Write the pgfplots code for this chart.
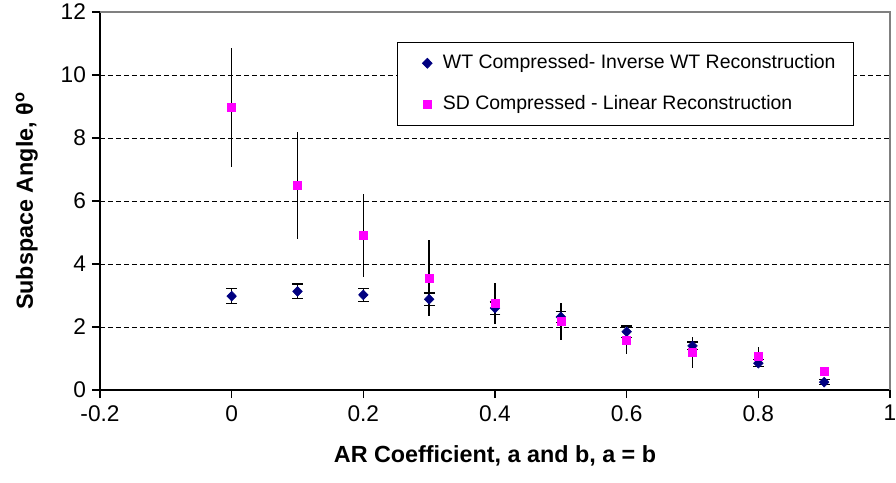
\documentclass[border=0pt]{standalone}
\usepackage{pgfplots}
\pgfplotsset{compat=1.18}
\usepackage{fontspec}
\setmainfont{Liberation Sans}
\definecolor{wtblue}{RGB}{0,0,128}
\definecolor{sdmag}{RGB}{255,0,255}
\begin{document}
\begin{tikzpicture}[x=1pt,y=1pt]
\begin{axis}[
  scale only axis,
  width=592.5pt, height=283.5pt,
  xmin=-0.2, xmax=1, ymin=0, ymax=12,
  xtick={-0.2,0,0.2,0.4,0.6,0.8,1},
  ytick={0,2,4,6,8,10,12},
  axis x line=bottom, axis y line=left,
  axis line style={-, black, line width=0.8pt},
  tick align=outside,
  major tick length=6pt,
  tick style={black, line width=0.8pt},
  /pgf/number format/assume math mode=true,
  tick label style={font=\fontsize{17}{20}\selectfont},
  xticklabel style={yshift=-2pt},
  yticklabel style={xshift=-1pt},
  ymajorgrids,
  grid style={black, line width=0.5pt, dash pattern=on 3.75pt off 2.25pt},
  xlabel={AR Coefficient, a and b, a = b},
  ylabel={Subspace Angle, θ\textsuperscript{o}},
  label style={font=\bfseries\fontsize{17.5}{20}\selectfont},
  xlabel style={at={(rel axis cs:0.5,0)}, anchor=center, yshift=-49.5pt},
  ylabel style={at={(rel axis cs:0,0.5)}, anchor=center, yshift=55pt},
  legend image code/.code={\path (-0.39cm,0) (0.33cm,0); \draw[#1] plot coordinates {(0cm,0cm)};},
  legend style={at={(rel axis cs:0.376,0.921)}, anchor=north west,
    draw=black, line width=0.6pt, fill=white,
    inner xsep=11pt, inner ysep=9pt, row sep=17.25pt,
    font=\fontsize{14.6}{17}\selectfont,
    nodes={text height=10.5pt, text depth=3pt, inner ysep=0pt}},
  legend cell align=left,
  clip=false,
]
\addplot[only marks, mark=diamond*, mark size=3.7pt,
  mark options={xscale=1.3, fill=wtblue, draw=wtblue},
  error bars/.cd, y dir=both, y explicit,
  error bar style={black, line width=1.1pt},
  error mark options={black, rotate=90, mark size=4pt, line width=1.1pt}]
  coordinates {
  (0,2.98) +- (0,0.24)
  (0.1,3.13) +- (0,0.23)
  (0.2,3.02) +- (0,0.21)
  (0.3,2.88) +- (0,0.20)
  (0.4,2.60) +- (0,0.20)
  (0.5,2.32) +- (0,0.17)
  (0.6,1.85) +- (0,0.18)
  (0.7,1.40) +- (0,0.12)
  (0.8,0.85) +- (0,0.11)
  (0.9,0.25) +- (0,0.08)
  };
\addlegendentry{WT Compressed- Inverse WT Reconstruction}
\addplot[only marks, mark=square*, mark size=3pt,
  mark options={fill=sdmag, draw=sdmag},
  error bars/.cd, y dir=both, y explicit,
  error bar style={black, line width=1.1pt},
  error mark=none]
  coordinates {
  (0,8.97) +- (0,1.90)
  (0.1,6.49) +- (0,1.70)
  (0.2,4.91) +- (0,1.31)
  (0.3,3.56) +- (0,1.20)
  (0.4,2.75) +- (0,0.66)
  (0.5,2.18) +- (0,0.58)
  (0.6,1.58) +- (0,0.45)
  (0.7,1.19) +- (0,0.48)
  (0.8,1.06) +- (0,0.32)
  (0.9,0.58) +- (0,0.15)
  };
\addlegendentry{SD Compressed - Linear Reconstruction}
\draw[gray, line width=0.8pt] (rel axis cs:0,1) -- (rel axis cs:1,1) -- (rel axis cs:1,0);
\end{axis}
\pgfresetboundingbox
\path[use as bounding box] (-75pt,-69pt) rectangle (597pt,292.5pt);
\end{tikzpicture}
\end{document}
